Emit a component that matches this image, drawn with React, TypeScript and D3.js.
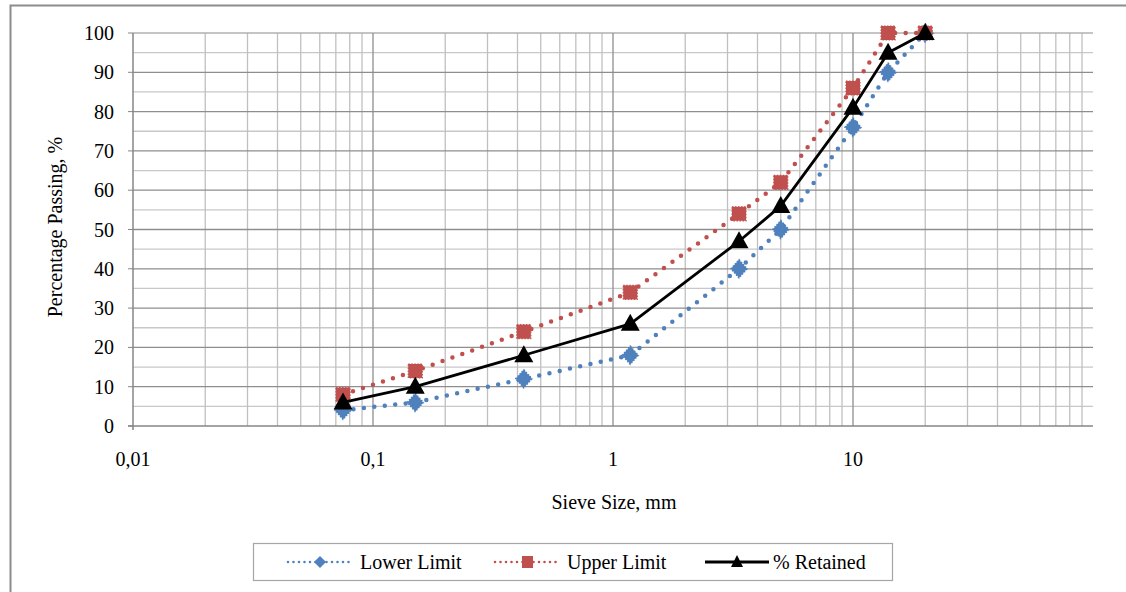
import * as d3 from "d3";
import React, { useEffect, useRef } from "react";

const sieveSizes = [0.075, 0.15, 0.425, 1.18, 3.35, 5, 10, 14, 20];
const lowerLimit = [4, 6, 12, 18, 40, 50, 76, 90, 100];
const upperLimit = [8, 14, 24, 34, 54, 62, 86, 100, 100];
const retained = [6, 10, 18, 26, 47, 56, 81, 95, 100];
const xTickLabels = ["0,01", "0,1", "1", "10"];
const yTicks = [0, 10, 20, 30, 40, 50, 60, 70, 80, 90, 100];

const BLUE = "#4F81BD";
const RED = "#C0504D";
const FONT = "'Liberation Serif', 'Times New Roman', serif";
const FS = "20px";

export default function App() {
    const ref = useRef<SVGSVGElement>(null);

    useEffect(() => {
        const svg = d3.select(ref.current);
        svg.selectAll("*").remove();

        const x = d3.scaleLog().domain([0.01, 100]).range([133, 1093]);
        const y = d3.scaleLinear().domain([0, 100]).range([426, 33]);

        // outer frame (runs off the page on right/bottom)
        svg.append("rect")
            .attr("x", 10.5).attr("y", 5.5)
            .attr("width", 1200).attr("height", 700)
            .attr("fill", "white")
            .attr("stroke", "#8c8c8c").attr("stroke-width", 2);

        const grid = svg.append("g");

        // minor horizontal
        grid.selectAll(null)
            .data(d3.range(5, 100, 10))
            .join("line")
            .attr("x1", 133).attr("x2", 1093)
            .attr("y1", (d) => y(d)).attr("y2", (d) => y(d))
            .attr("stroke", "#c8c8c8").attr("stroke-width", 1.3);

        // minor vertical
        const minors: number[] = [];
        [0.01, 0.1, 1, 10].forEach((dec) => {
            for (let k = 2; k <= 9; k++) minors.push(dec * k);
        });
        grid.selectAll(null)
            .data(minors)
            .join("line")
            .attr("x1", (d) => x(d)).attr("x2", (d) => x(d))
            .attr("y1", 33).attr("y2", 426)
            .attr("stroke", "#c0c0c0").attr("stroke-width", 1.3);

        // major horizontal
        grid.selectAll(null)
            .data(yTicks.slice(1))
            .join("line")
            .attr("x1", 133).attr("x2", 1093)
            .attr("y1", (d) => y(d)).attr("y2", (d) => y(d))
            .attr("stroke", (d) => (d === 100 ? "#b0b0b0" : "#8e8e8e")).attr("stroke-width", 1.3);

        // major vertical
        grid.selectAll(null)
            .data([0.1, 1, 10])
            .join("line")
            .attr("x1", (d) => x(d)).attr("x2", (d) => x(d))
            .attr("y1", 33).attr("y2", 426)
            .attr("stroke", "#8e8e8e").attr("stroke-width", 1.3);

        // axes
        svg.append("line")
            .attr("x1", 133).attr("x2", 133).attr("y1", 33).attr("y2", 430)
            .attr("stroke", "#868686").attr("stroke-width", 1.5);
        svg.append("line")
            .attr("x1", 128).attr("x2", 1093).attr("y1", 426).attr("y2", 426)
            .attr("stroke", "#868686").attr("stroke-width", 1.5);

        svg.append("g")
            .selectAll(null)
            .data(yTicks)
            .join("line")
            .attr("x1", 128).attr("x2", 133)
            .attr("y1", (d) => y(d)).attr("y2", (d) => y(d))
            .attr("stroke", "#868686").attr("stroke-width", 1);

        svg.append("g")
            .selectAll(null)
            .data(yTicks)
            .join("text")
            .attr("x", 114).attr("y", (d) => y(d))
            .attr("dy", "0.35em")
            .attr("text-anchor", "end")
            .style("font-family", FONT).style("font-size", FS)
            .text((d) => d);

        svg.append("g")
            .selectAll(null)
            .data([0.01, 0.1, 1, 10])
            .join("text")
            .attr("x", (d) => x(d)).attr("y", 466)
            .attr("text-anchor", "middle")
            .style("font-family", FONT).style("font-size", FS)
            .text((d, i) => xTickLabels[i]);

        svg.append("text")
            .attr("x", 614).attr("y", 509)
            .attr("text-anchor", "middle")
            .style("font-family", FONT).style("font-size", FS)
            .text("Sieve Size, mm");

        svg.append("text")
            .attr("transform", "translate(62,227) rotate(-90)")
            .attr("text-anchor", "middle")
            .style("font-family", FONT).style("font-size", FS)
            .text("Percentage Passing, %");

        const line = d3.line<[number, number]>()
            .x((d) => x(d[0]))
            .y((d) => y(d[1]));

        const pts = (vals: number[]) =>
            sieveSizes.map((s, i) => [s, vals[i]] as [number, number]);

        const diamond = (g: any, cx: number, cy: number) => {
            g.append("path")
                .attr("d", `M${cx},${cy - 9} L${cx + 8},${cy} L${cx},${cy + 9} L${cx - 8},${cy} Z`)
                .attr("fill", BLUE).attr("stroke", BLUE).attr("stroke-width", 1.6)
                .attr("stroke-dasharray", "1.5 1.5");
        };
        const square = (g: any, cx: number, cy: number) => {
            g.append("rect")
                .attr("x", cx - 7).attr("y", cy - 7)
                .attr("width", 14).attr("height", 14)
                .attr("fill", RED).attr("stroke", RED).attr("stroke-width", 1.2)
                .attr("stroke-dasharray", "1.5 1.5");
        };
        const triangle = (g: any, cx: number, cy: number) => {
            g.append("path")
                .attr("d", `M${cx},${cy - 10} L${cx + 9.5},${cy + 7} L${cx - 9.5},${cy + 7} Z`)
                .attr("fill", "black");
        };

        const series = [
            { vals: lowerLimit, color: BLUE, dotted: true, marker: diamond },
            { vals: upperLimit, color: RED, dotted: true, marker: square },
            { vals: retained, color: "black", dotted: false, marker: triangle },
        ];

        const plot = svg.append("g");
        series.forEach((s) => {
            plot.append("path")
                .attr("d", line(pts(s.vals)))
                .attr("fill", "none")
                .attr("stroke", s.color)
                .attr("stroke-width", s.dotted ? 4.5 : 2.8)
                .attr("stroke-linecap", s.dotted ? "round" : "butt")
                .attr("stroke-linejoin", "round")
                .attr("stroke-dasharray", s.dotted ? "0 10.5" : null);
            const mg = plot.append("g");
            pts(s.vals).forEach((p) => s.marker(mg, x(p[0]), y(p[1])));
        });

        // legend
        const legend = svg.append("g");
        legend.append("rect")
            .attr("x", 253.5).attr("y", 543.5)
            .attr("width", 639).attr("height", 37)
            .attr("fill", "white").attr("stroke", "#a6a6a6").attr("stroke-width", 1.2);

        const legendItems = [
            { label: "Lower Limit", x0: 288, tx: 360 },
            { label: "Upper Limit", x0: 495, tx: 567 },
            { label: "% Retained", x0: 705, tx: 773 },
        ];
        legendItems.forEach((it, i) => {
            const s = series[i];
            const ly = 562;
            legend.append("line")
                .attr("x1", it.x0).attr("x2", it.x0 + 64)
                .attr("y1", ly).attr("y2", ly)
                .attr("stroke", s.color)
                .attr("stroke-width", s.dotted ? 2.6 : 2.8)
                .attr("stroke-linecap", s.dotted ? "round" : "butt")
                .attr("stroke-dasharray", s.dotted ? "0 5.5" : null);
            const mg = legend.append("g");
            if (i === 0) {
                mg.append("path")
                    .attr("d", `M${it.x0 + 32},${ly - 6} L${it.x0 + 38},${ly} L${it.x0 + 32},${ly + 6} L${it.x0 + 26},${ly} Z`)
                    .attr("fill", BLUE);
            } else if (i === 1) {
                mg.append("rect")
                    .attr("x", it.x0 + 27).attr("y", ly - 6)
                    .attr("width", 11).attr("height", 12)
                    .attr("fill", RED);
            } else {
                mg.append("path")
                    .attr("d", `M${it.x0 + 32},${ly - 7} L${it.x0 + 38},${ly + 5} L${it.x0 + 26},${ly + 5} Z`)
                    .attr("fill", "black");
            }
            legend.append("text")
                .attr("x", it.tx).attr("y", ly)
                .attr("dy", "0.35em")
                .style("font-family", FONT).style("font-size", FS)
                .text(it.label);
        });
    }, []);

    return (
        <svg
            ref={ref}
            width={1126}
            height={592}
            style={{ position: "absolute", left: 0, top: 0, background: "white" }}
        />
    );
}
